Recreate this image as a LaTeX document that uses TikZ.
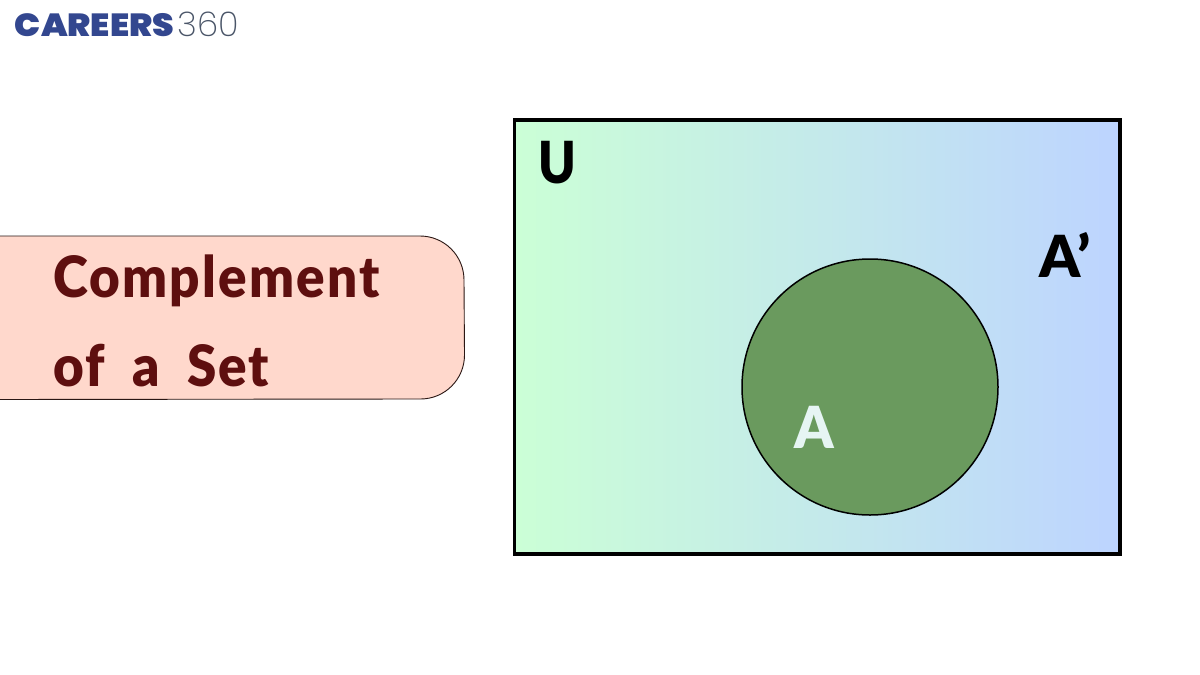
\documentclass[tikz,border=0pt]{standalone}
\usepackage{fontspec}
\setmainfont{Lato}[BoldFont=* Black]
\newfontfamily\logofont{Poppins}[UprightFont=* Black]
\newfontfamily\logothin{Poppins}[UprightFont=* ExtraLight]
\newfontfamily\titlefont{Lato}[UprightFont=* Black,LetterSpace=4,WordSpace=1.9]
\definecolor{logoblue}{HTML}{33478F}
\definecolor{logogrey}{HTML}{4A5568}
\definecolor{pillfill}{HTML}{FFD8CC}
\definecolor{pillline}{HTML}{2A1714}
\definecolor{titlered}{HTML}{5E0F0F}
\definecolor{gradleft}{HTML}{CBFFD6}
\definecolor{gradright}{HTML}{BDD4FF}
\definecolor{setgreen}{HTML}{6A9A5E}
\definecolor{setlabel}{HTML}{E6F5F3}
\tikzset{
  txt/.style={anchor=base west,inner sep=0pt,outer sep=0pt},
  setname/.style={txt,font=\bfseries\fontsize{58}{58}\selectfont,text=black},
  titleline/.style={txt,font=\titlefont\fontsize{57}{57}\selectfont,text=titlered,xscale=0.93}
}
\begin{document}
\begin{tikzpicture}[x=1pt,y=-1pt]
\useasboundingbox (0,0) rectangle (1200,675);
\fill[white] (0,0) rectangle (1200,675);
% logo
\node[txt,font=\logofont\fontsize{32}{32}\selectfont,text=logoblue,xscale=1.08] (logo) at (15,36) {CAREERS};
\node[txt,font=\logothin\fontsize{34}{34}\selectfont,text=logogrey] (logonum) at (177.5,36.5) {360};
% title pill
\path[fill=pillfill,draw=pillline,line width=0.9pt] (-10,236) -- (420,236) arc[start angle=-90,end angle=0,radius=44] -- (464.5,355) arc[start angle=0,end angle=90,radius=44] -- (-10,399.5) -- cycle;
\node[titleline] (t1) at (53.5,297) {Complement};
\node[titleline] (t2) at (53.5,386) {of a Set};
% universe
\shade[left color=gradleft,right color=gradright] (514.5,120) rectangle (1120,554);
\draw[black,line width=3.4pt] (514.5,120) rectangle (1120,554);
\node[setname,xscale=0.87] (u) at (538,183.5) {U};
\node[setname] (ac) at (1039,277) {A’};
% set A
\node[circle,draw=black,line width=1.5pt,fill=setgreen,minimum size=256pt,inner sep=0pt] (seta) at (870,387) {};
\node[setname,text=setlabel,xscale=0.96] (a) at (794,448) {A};
\end{tikzpicture}
\end{document}
